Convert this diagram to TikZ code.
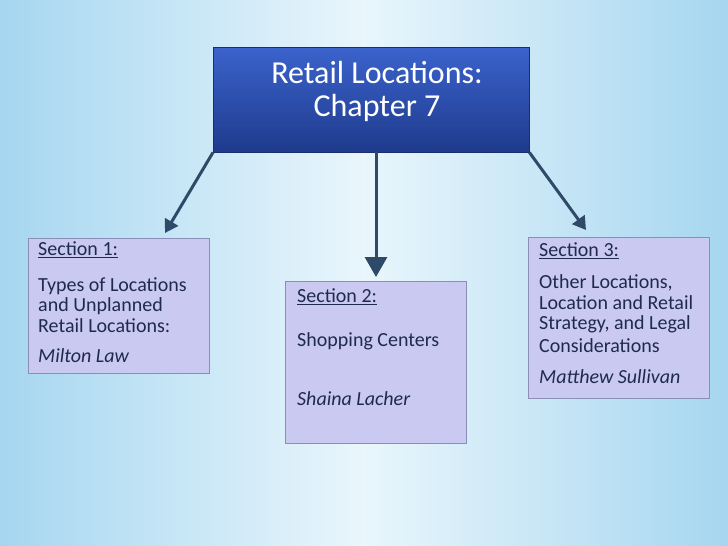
\documentclass[tikz,border=0pt]{standalone}
\usepackage{fontspec}
\setmainfont{Carlito}
\usetikzlibrary{arrows.meta}
\definecolor{bgA}{HTML}{A6D6F0}
\definecolor{bgB}{HTML}{E9F6FC}
\definecolor{topA}{HTML}{3B63CC}
\definecolor{topB}{HTML}{1E3A8C}
\definecolor{secfill}{HTML}{C9C9F2}
\definecolor{secdraw}{HTML}{8A8FB8}
\definecolor{arr}{HTML}{2F4A68}
\definecolor{txt}{HTML}{1F2A50}
\tikzset{
  secbox/.style={draw=secdraw, line width=0.8pt, fill=secfill, minimum width=181pt, anchor=north west, inner sep=0pt},
  stxt/.style={anchor=west, text=txt, font=\fontsize{20}{24}\selectfont, inner sep=0pt},
  conn/.style={arr, line width=3pt, -{Triangle[length=13pt,width=15pt]}}
}
\begin{document}
\begin{tikzpicture}[x=1pt,y=-1pt]
\useasboundingbox (0,0) rectangle (728,546);
\shade[left color=bgA, right color=bgA, middle color=bgB] (0,0) rectangle (728,546);
\node[draw=topB!80!black, top color=topA, bottom color=topB, minimum width=316pt, minimum height=105pt, anchor=north west, inner sep=0pt] (top) at (213,47) {};
\node[text=white, align=center, font=\fontsize{32}{33}\selectfont, anchor=north] (title) at (377,58) {Retail Locations:\\Chapter 7};
\node[secbox, minimum height=135pt] (s1) at (28,238) {};
\node[secbox, minimum height=162pt] (s2) at (285,281) {};
\node[secbox, minimum height=161pt] (s3) at (528,237) {};
\node[stxt] (s1a) at (38,250) {\underline{Section 1:}};
\node[stxt] (s1b) at (38,286) {Types of Locations};
\node[stxt] (s1c) at (38,306) {and Unplanned};
\node[stxt] (s1d) at (38,326) {Retail Locations:};
\node[stxt] (s1e) at (38,356) {\itshape Milton Law};
\node[stxt] (s2a) at (297,297) {\underline{Section 2:}};
\node[stxt] (s2b) at (297,341) {Shopping Centers};
\node[stxt] (s2c) at (297,399) {\itshape Shaina Lacher};
\node[stxt] (s3a) at (539,251) {\underline{Section 3:}};
\node[stxt] (s3b) at (539,283) {Other Locations,};
\node[stxt] (s3c) at (539,303) {Location and Retail};
\node[stxt] (s3d) at (539,324) {Strategy, and Legal};
\node[stxt] (s3e) at (539,346) {Considerations};
\node[stxt] (s3f) at (539,377) {\itshape Matthew Sullivan};
\coordinate (e1) at (165,233);
\coordinate (e2) at (376,277);
\coordinate (e3) at (586,230);
\draw[conn] (top.south west) -- (e1);
\draw[conn, -{Triangle[length=20pt,width=22pt]}] (top.south -| e2) -- (e2);
\draw[conn] (top.south east) -- (e3);
\end{tikzpicture}
\end{document}
